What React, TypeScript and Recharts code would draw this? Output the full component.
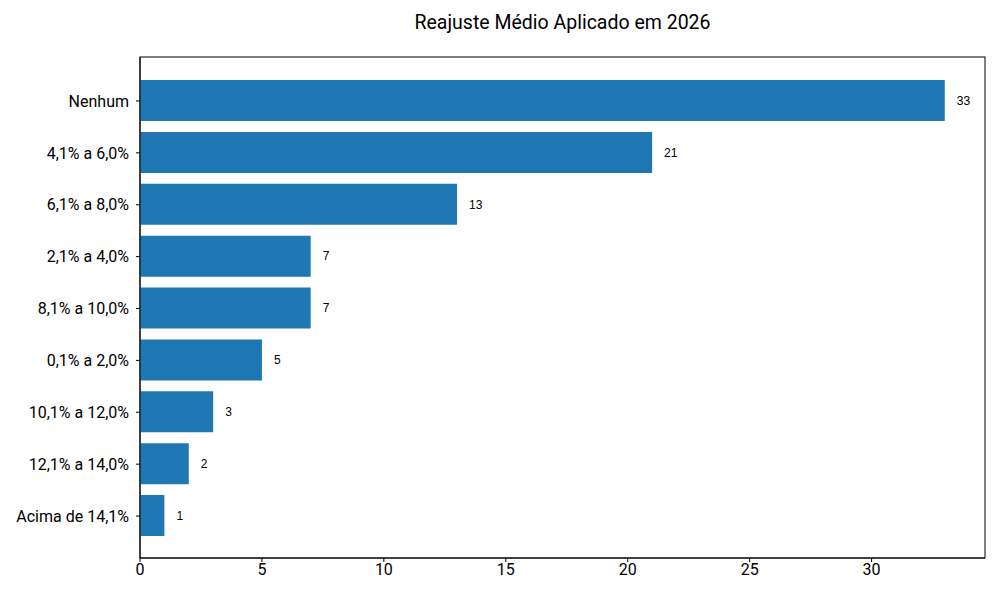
import React from 'react';
import * as Recharts from "recharts"
import { BarChart, Bar, XAxis, YAxis, LabelList } from "recharts"

const categories = [
  "Nenhum",
  "4,1% a 6,0%",
  "6,1% a 8,0%",
  "2,1% a 4,0%",
  "8,1% a 10,0%",
  "0,1% a 2,0%",
  "10,1% a 12,0%",
  "12,1% a 14,0%",
  "Acima de 14,1%",
]
const counts = [33, 21, 13, 7, 7, 5, 3, 2, 1]
const xTicks = [0, 5, 10, 15, 20, 25, 30]

const data = categories.map((name, i) => ({ name, value: counts[i] }))

const font = "Roboto, 'Noto Sans', sans-serif"
const xMax = 34.65

// box round the plot area, like matplotlib's four spines
const usePlot: any = (Recharts as any).usePlotArea || (Recharts as any).useOffset

function Frame() {
  const area = usePlot ? usePlot() : null
  if (!area) return null
  const x = area.x ?? area.left
  const y = area.y ?? area.top
  return (
    <rect x={x} y={y} width={area.width} height={area.height} fill="none" stroke="#000" strokeWidth={1} />
  )
}

export default function App() {
  return (
    <div style={{ position: "absolute", left: 0, top: 0, width: 1000, height: 600, background: "#fff" }}>
      <div
        style={{
          position: "absolute",
          left: 140,
          width: 845,
          top: 11,
          textAlign: "center",
          fontFamily: font,
          fontSize: 19.5,
          color: "#000",
        }}
      >
        Reajuste Médio Aplicado em 2026
      </div>
      <BarChart
        width={1000}
        height={600}
        data={data}
        layout="vertical"
        margin={{ top: 57, right: 15, bottom: 0, left: 0 }}
      >
        <XAxis
          type="number"
          domain={[0, xMax]}
          ticks={xTicks}
          allowDataOverflow
          height={42}
          axisLine={{ stroke: "#000", strokeWidth: 1 }}
          tickLine={{ stroke: "#000" }}
          tickSize={4}
          tick={{ fill: "#000", fontSize: 16, fontFamily: font }}
        />
        <YAxis
          type="category"
          dataKey="name"
          width={140}
          padding={{ top: 18, bottom: 16 }}
          axisLine={{ stroke: "#000", strokeWidth: 1 }}
          tickLine={{ stroke: "#000" }}
          tickSize={4}
          tickMargin={7}
          interval={0}
          tick={{ fill: "#000", fontSize: 16, fontFamily: font }}
        />
        <Bar dataKey="value" fill="#1f77b4" barSize={41} isAnimationActive={false}>
          <LabelList
            dataKey="value"
            position="right"
            offset={12}
            style={{ fill: "#000", fontSize: 12, fontFamily: "'Liberation Sans', Arial, sans-serif" }}
          />
        </Bar>
        <Frame />
      </BarChart>
    </div>
  )
}
